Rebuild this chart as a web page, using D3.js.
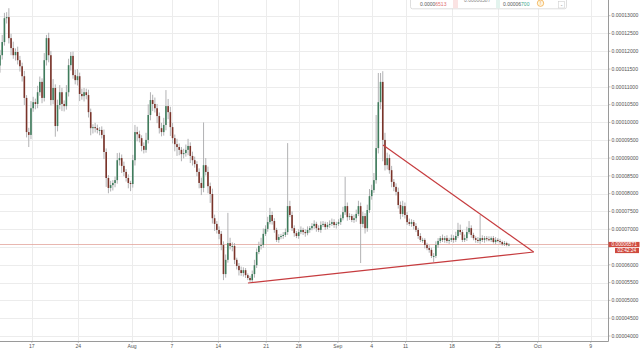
<!DOCTYPE html>
<html>
<head>
<meta charset="utf-8">
<script src="https://cdn.jsdelivr.net/npm/d3@7"></script>
<style>
body { margin: 0; background: #fff; }
svg { display: block; font-family: "Liberation Sans", Arial, sans-serif; }
</style>
</head>
<body>
<div class="chart"></div>
<script>
// prices in satoshi (1e-8), 8h candles starting at day 0
var firstOpen = 11600;
var closes = [11890,12260,12930,12960,12370,12090,11890,11980,11750,11580,
    11300,10690,9730,9650,10400,10570,10520,10850,11140,10690,
    11750,12370,11890,10630,10970,9900,10490,10850,10520,10460,
    10850,11610,11870,11330,11190,11300,10800,10740,10850,10770,
    10290,9840,9870,9840,9790,9790,9650,9170,8440,8160,
    8240,8300,8380,8940,9000,8780,8610,8440,8300,8270,
    8940,9730,9670,9560,9340,9230,9510,10210,10630,10520,
    10400,10180,9840,9730,9930,10460,10290,9870,9560,9390,
    9310,9230,9110,9140,9230,9340,9060,8940,8830,8610,
    8300,8160,8800,8610,8210,7990,7310,7150,6980,6870,
    6560,5740,6140,6610,6530,6530,6140,5970,5850,5770,
    5850,5710,5630,5570,5740,5990,6360,6530,6560,6870,
    7010,7200,7400,7230,6980,6700,6780,6810,6840,6920,
    7650,7400,7030,6890,6810,6920,6980,6920,6890,6980,
    7030,7090,7150,7030,6980,7120,7150,7060,7120,7150,
    7200,7120,7150,7200,7310,7480,7650,7340,7370,7260,
    7310,7430,7650,7150,7370,7030,7540,7930,8100,8380,
    9280,10570,11140,9510,8800,9000,8660,8330,8190,8050,
    7680,7430,7650,7400,7200,7150,7200,7090,6980,6810,
    6700,6700,6560,6470,6420,6250,6250,6560,6670,6750,
    6700,6750,6670,6700,6750,6700,6810,6980,6920,6700,
    6750,6920,7030,6840,6750,6700,6670,6750,6700,6750,
    6720,6700,6750,6640,6700,6670,6640,6580,6610,6560,
    6571];

// wick length above / below the body, satoshi
var upWick = [150,200,150,140,250,120,180,100,150,120,
    100,150,80,120,200,150,100,180,150,100,
    200,90,150,120,250,100,150,200,120,100,
    200,180,110,120,150,200,100,150,120,100,
    150,100,80,120,100,80,100,150,100,80,
    120,80,100,200,150,100,120,80,100,60,
    150,200,150,100,80,100,200,300,220,150,
    180,120,100,150,200,450,200,150,120,100,
    150,100,80,120,150,200,100,120,100,80,
    100,150,1200,200,150,100,150,100,80,100,
    80,100,150,850,150,100,80,60,80,100,
    80,60,50,60,100,150,100,120,200,150,
    100,150,200,100,80,60,80,60,80,100,
    1770,150,100,80,60,80,100,60,80,100,
    60,80,100,60,80,100,80,60,80,100,
    100,80,60,80,100,150,820,100,80,60,
    100,120,150,100,120,80,150,200,150,200,
    930,820,250,300,200,150,100,120,80,100,
    120,100,150,100,80,100,80,60,80,60,
    80,60,50,60,80,60,80,100,80,60,
    100,60,80,60,100,80,120,200,150,60,
    100,150,200,80,60,50,80,650,80,60,
    60,80,50,60,80,50,60,40,60,40,
    40];
var downWick = [200,120,100,150,150,200,100,150,120,150,
    150,200,150,340,120,100,150,120,100,150,
    100,150,200,150,120,300,150,120,200,150,
    100,120,150,100,120,150,200,100,150,120,
    150,200,150,120,100,150,100,200,250,150,
    100,150,120,100,150,200,120,100,150,200,
    100,150,200,120,150,100,80,100,150,200,
    120,200,150,120,100,150,200,250,150,200,
    250,150,200,120,100,150,200,150,100,120,
    150,200,120,100,200,250,150,200,100,150,
    150,170,100,80,100,150,120,100,150,80,
    100,80,60,50,80,100,80,60,100,80,
    60,80,60,100,80,60,80,60,80,60,
    80,60,80,100,60,80,60,80,100,60,
    80,60,80,100,60,80,60,80,60,80,
    60,80,100,60,80,60,80,100,80,60,
    80,100,60,1100,100,150,100,80,100,80,
    100,150,200,600,150,120,100,150,120,100,
    100,150,80,100,80,60,80,100,60,80,
    60,80,100,60,80,60,170,60,80,60,
    60,80,60,80,60,80,60,60,80,60,
    60,80,60,80,60,80,60,80,60,80,
    60,40,60,40,60,40,50,40,50,40,
    40];

var tickLabels = ["17", "24", "Aug", "7", "14", "21", "28", "Sep", "4", "11", "18", "25", "Oct", "9"];
var tickDays = [4.8, 11.8, 19.9, 25.9, 32.9, 40.1, 45, 50.9, 56, 61.1, 68.1, 75, 81, 89];
var priceTicks = [4000, 4500, 5000, 5500, 6000, 6500, 7000, 7500, 8000, 8500, 9000, 9500,
    10000, 10500, 11000, 11500, 12000, 12500, 13000, 13500];

// triangle: bottom start, apex, top start (day, satoshi)
var trendDays = [37.35, 80.4, 57.7];
var trendPrices = [5490, 6360, 9370];

var lastPrice = 6571;
var lastTimer = "02:42:24";
var widgetValues = ["0.00006513", "0.00006587", "0.00006700"];

var svgWidth = 640, svgHeight = 351;
var plotRight = 608, plotBottom = 341;

var svg = d3.select(".chart").append("svg")
    .attr("width", svgWidth)
    .attr("height", svgHeight);

var x = d3.scaleLinear().domain([0, 91.6]).range([0, plotRight]);
var y = d3.scaleLinear().domain([4000, 13000]).range([336, 15.7]);
var fmt = function(v) { return (v / 1e8).toFixed(8); };

svg.append("defs").append("clipPath").attr("id", "plot")
    .append("rect").attr("x", 0).attr("y", 0).attr("width", plotRight).attr("height", plotBottom);

// grid
var grid = svg.append("g");
grid.selectAll("line.h").data(priceTicks).enter().append("line")
    .attr("x1", 0).attr("x2", plotRight)
    .attr("y1", d => Math.round(y(d)) + 0.5).attr("y2", d => Math.round(y(d)) + 0.5)
    .attr("stroke", "#ececec");
grid.selectAll("line.v").data(tickDays).enter().append("line")
    .attr("x1", d => Math.round(x(d)) + 0.5).attr("x2", d => Math.round(x(d)) + 0.5)
    .attr("y1", 0).attr("y2", plotBottom)
    .attr("stroke", "#ececec");

// last price line
svg.append("line")
    .attr("x1", 0).attr("x2", plotRight)
    .attr("y1", y(lastPrice)).attr("y2", y(lastPrice))
    .attr("stroke", "#e2a59c").attr("stroke-width", 0.8);

// candles
var candles = closes.map(function(c, i) {
    var o = i === 0 ? firstOpen : closes[i - 1];
    return {
        day: i / 3,
        o: o,
        c: c,
        h: Math.max(o, c) + upWick[i],
        l: Math.min(o, c) - downWick[i]
    };
});

var chartGroup = svg.append("g").attr("clip-path", "url(#plot)");

chartGroup.selectAll("line.wick").data(candles).enter().append("line")
    .attr("x1", d => x(d.day)).attr("x2", d => x(d.day))
    .attr("y1", d => y(d.h)).attr("y2", d => y(d.l))
    .attr("stroke", "#a9a9ab").attr("stroke-width", 0.9);

chartGroup.selectAll("rect.body").data(candles).enter().append("rect")
    .attr("x", d => x(d.day) - 0.8)
    .attr("width", 1.6)
    .attr("y", d => y(Math.max(d.o, d.c)))
    .attr("height", d => Math.max(1, y(Math.min(d.o, d.c)) - y(Math.max(d.o, d.c))))
    .attr("fill", d => d.c >= d.o ? "#3f7c5c" : "#7a3329");

// triangle
var tri = svg.append("g").attr("clip-path", "url(#plot)");
[[0, 1], [2, 1]].forEach(function(seg) {
    tri.append("line")
        .attr("x1", x(trendDays[seg[0]])).attr("y1", y(trendPrices[seg[0]]))
        .attr("x2", x(trendDays[seg[1]])).attr("y2", y(trendPrices[seg[1]]))
        .attr("stroke", "#c63c3f").attr("stroke-width", 1.2);
});

// axes lines
svg.append("line").attr("x1", plotRight + 0.5).attr("x2", plotRight + 0.5)
    .attr("y1", 0).attr("y2", plotBottom + 0.5).attr("stroke", "#9a9a9a");
svg.append("line").attr("x1", 0).attr("x2", plotRight + 0.5)
    .attr("y1", plotBottom + 0.5).attr("y2", plotBottom + 0.5).attr("stroke", "#9a9a9a");

// right price axis (label under the last price box is hidden, as in the app)
var ly = y(lastPrice);
var yAxis = svg.append("g").attr("transform", `translate(${plotRight}, 0)`);
yAxis.selectAll("line").data(priceTicks).enter().append("line")
    .attr("x1", 0).attr("x2", 2.5)
    .attr("y1", d => y(d)).attr("y2", d => y(d))
    .attr("stroke", "#9a9a9a").attr("stroke-width", 0.6);
yAxis.selectAll("text").data(priceTicks.filter(d => Math.abs(y(d) - ly) > 9)).enter().append("text")
    .attr("x", 3.5).attr("y", d => y(d))
    .attr("dy", "0.35em")
    .attr("font-size", "5.1px")
    .attr("fill", "#555")
    .text(d => fmt(d));

// bottom time axis
var xAxis = svg.append("g").attr("transform", `translate(0, ${plotBottom})`);
xAxis.selectAll("line").data(tickDays).enter().append("line")
    .attr("x1", d => x(d)).attr("x2", d => x(d))
    .attr("y1", 0).attr("y2", 2)
    .attr("stroke", "#9a9a9a").attr("stroke-width", 0.6);
xAxis.selectAll("text").data(tickDays).enter().append("text")
    .attr("x", d => x(d)).attr("y", 5.5)
    .attr("dy", "0.35em")
    .attr("text-anchor", "middle")
    .attr("font-size", "5.1px")
    .attr("fill", "#555")
    .text((d, i) => tickLabels[i]);

// last price label and countdown
svg.append("rect").attr("x", plotRight + 0.5).attr("y", ly - 2.6)
    .attr("width", 31).attr("height", 5.2).attr("fill", "#cf4b3f");
svg.append("text").attr("x", plotRight + 3.5).attr("y", ly)
    .attr("dy", "0.35em").attr("font-size", "4.8px").attr("fill", "#fff")
    .text(fmt(lastPrice));
svg.append("rect").attr("x", 615).attr("y", ly + 3.4)
    .attr("width", 24).attr("height", 5.2).attr("fill", "#cf4b3f");
svg.append("text").attr("x", 617.5).attr("y", ly + 6.2)
    .attr("dy", "0.35em").attr("font-size", "4.8px").attr("fill", "#fff")
    .text(lastTimer);

// top widget (cut off at the top)
var w = svg.append("g");
w.append("rect").attr("x", 410.5).attr("y", -6).attr("width", 156).attr("height", 14.8)
    .attr("rx", 2).attr("fill", "#fff").attr("stroke", "#d6d6d6").attr("stroke-width", 0.8);
w.append("rect").attr("x", 453).attr("y", -6).attr("width", 5).attr("height", 14.3).attr("fill", "#fbe3e3");
w.append("rect").attr("x", 496).attr("y", -6).attr("width", 4).attr("height", 14.3).attr("fill", "#e3f4ee");
var t1 = w.append("text").attr("x", 420).attr("y", 6).attr("font-size", "5px").attr("fill", "#555");
t1.append("tspan").text(widgetValues[0].slice(0, 6));
t1.append("tspan").attr("fill", "#e07070").text(widgetValues[0].slice(6));
w.append("text").attr("x", 464).attr("y", 1.5).attr("font-size", "5px").attr("fill", "#888")
    .text(widgetValues[1]);
var t3 = w.append("text").attr("x", 503).attr("y", 6).attr("font-size", "5px").attr("fill", "#555");
t3.append("tspan").text(widgetValues[2].slice(0, 7));
t3.append("tspan").attr("fill", "#3aa58a").text(widgetValues[2].slice(7));
w.append("circle").attr("cx", 540.5).attr("cy", 3.2).attr("r", 3.2)
    .attr("fill", "#fff6e0").attr("stroke", "#f0a33a").attr("stroke-width", 0.7);
w.append("text").attr("x", 540.5).attr("y", 3.2).attr("dy", "0.35em").attr("text-anchor", "middle")
    .attr("font-size", "4.5px").attr("fill", "#e08a1a").text("!");
w.append("rect").attr("x", 558.5).attr("y", 1.5).attr("width", 6).attr("height", 6.5)
    .attr("fill", "#fff").attr("stroke", "#d0d0d0").attr("stroke-width", 0.6);
w.append("text").attr("x", 561.5).attr("y", 4.8).attr("dy", "0.35em").attr("text-anchor", "middle")
    .attr("font-size", "5px").attr("fill", "#666").text("-");
</script>
</body>
</html>
